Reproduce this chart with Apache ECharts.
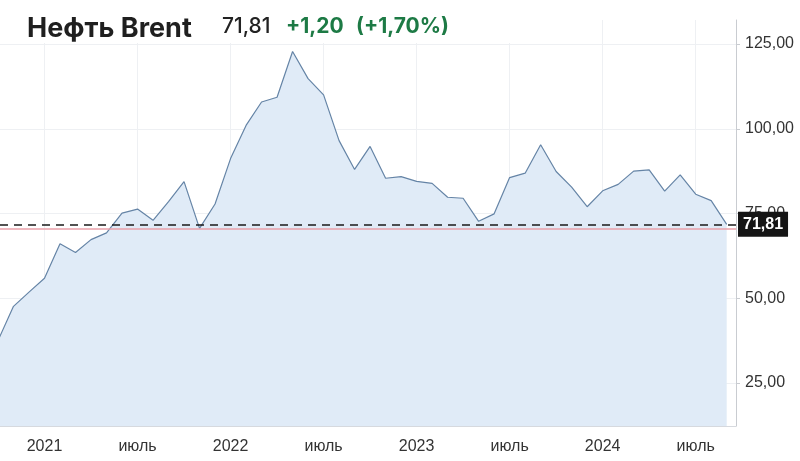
<!DOCTYPE html>
<html><head><meta charset="utf-8">
<script src="https://cdn.jsdelivr.net/npm/echarts@6/dist/echarts.min.js"></script>
<style>html,body{margin:0;padding:0;background:#fff}#c{width:800px;height:461px}</style>
</head><body><div id="c"></div>
<script>
const months = ['2020-10','2020-11','2020-12',
  '2021-01','2021-02','2021-03','2021-04','2021-05','2021-06','2021-07','2021-08','2021-09','2021-10','2021-11','2021-12',
  '2022-01','2022-02','2022-03','2022-04','2022-05','2022-06','2022-07','2022-08','2022-09','2022-10','2022-11','2022-12',
  '2023-01','2023-02','2023-03','2023-04','2023-05','2023-06','2023-07','2023-08','2023-09','2023-10','2023-11','2023-12',
  '2024-01','2024-02','2024-03','2024-04','2024-05','2024-06','2024-07','2024-08','2024-09'];
const prices = [37.5, 47.6, 51.8,
  55.9, 66.1, 63.5, 67.3, 69.3, 75.1, 76.3, 73.0, 78.5, 84.4, 70.6, 77.8,
  91.2, 101.0, 107.9, 109.3, 122.8, 114.8, 110.0, 96.5, 88.0, 94.8, 85.4, 85.9,
  84.5, 83.9, 79.8, 79.5, 72.7, 74.9, 85.6, 86.9, 95.3, 87.4, 82.8, 77.0,
  81.7, 83.6, 87.5, 87.9, 81.6, 86.4, 80.7, 78.8, 71.81];
const xTickMonths = ['2021-01','2021-07','2022-01','2022-07','2023-01','2023-07','2024-01','2024-07'];
const xTickLabels = ['2021','июль','2022','июль','2023','июль','2024','июль'];
const yTicks = [25, 50, 75, 100, 125];
const titleName = 'Нефть Brent';
const lastPrice = 71.81;
const prevClose = 70.61;
const changeText = '+1,20';
const changePctText = '(+1,70%)';

const fmt = v => v.toFixed(2).replace('.', ',');
const seriesData = prices.map((v, i) => [i, v]);
const xTickIdx = xTickMonths.map(m => months.indexOf(m));
const green = '#1d7a45';

const chart = echarts.init(document.getElementById('c'), null, {renderer: 'canvas'});
chart.setOption({
  animation: false,
  backgroundColor: '#ffffff',
  graphic: [
    {type: 'rect', left: 0, top: 0, z: 100, shape: {width: 600, height: 43}, style: {fill: '#ffffff'}},
    {type: 'text', left: 27, top: 15, z: 101, style: {text: titleName, fontFamily: 'Inter', fontSize: 27, fontWeight: 'bold', fill: '#1f1f1f'}},
    {type: 'text', left: 222, top: 16, z: 101, style: {text: fmt(lastPrice), fontFamily: 'Inter', fontSize: 21, fontWeight: 500, fill: '#222'}},
    {type: 'text', left: 286, top: 16, z: 101, style: {text: changeText, fontFamily: 'Inter', fontSize: 21, fontWeight: 'bold', fill: green}},
    {type: 'text', left: 356, top: 16, z: 101, style: {text: changePctText, fontFamily: 'Inter', fontSize: 21, fontWeight: 'bold', fill: green}}
  ],
  grid: {left: 0, right: 64, top: 20, bottom: 35, containLabel: false},
  xAxis: {
    type: 'value', min: 0.13, max: 47.6,
    axisLine: {show: true, lineStyle: {color: '#d6d9de', width: 1}},
    axisTick: {show: false, customValues: xTickIdx},
    axisLabel: {customValues: xTickIdx, margin: 13, fontFamily: 'Liberation Sans', fontSize: 16, color: '#333',
      formatter: v => { const k = xTickIdx.indexOf(Math.round(v)); return k >= 0 ? xTickLabels[k] : ''; }},
    splitLine: {show: true, lineStyle: {color: '#eef0f3', width: 1}}
  },
  yAxis: {
    type: 'value', position: 'right', min: 12.3, max: 132.1,
    axisLine: {show: true, lineStyle: {color: '#c9ccd1', width: 1}},
    axisTick: {show: true, length: 4, inside: false, customValues: yTicks, lineStyle: {color: '#c9ccd1'}},
    axisLabel: {customValues: yTicks, margin: 9, fontFamily: 'Liberation Sans', fontSize: 16, color: '#333', formatter: v => fmt(v)},
    splitLine: {show: true, lineStyle: {color: '#eef0f3', width: 1}}
  },
  series: [{
    type: 'line', data: seriesData, showSymbol: false, symbol: 'none',
    lineStyle: {color: '#6584a6', width: 1.2},
    areaStyle: {color: '#e0ebf7', opacity: 1},
    markLine: {
      silent: true, symbol: ['none', 'none'], animation: false,
      data: [
        {yAxis: prevClose, lineStyle: {color: '#eaa1aa', type: 'solid', width: 1.5}, label: {show: false}},
        {yAxis: lastPrice, lineStyle: {color: '#1a1a1a', type: [8, 6], width: 1.5},
          label: {show: true, position: 'end', distance: 2, formatter: () => fmt(lastPrice),
            backgroundColor: '#151515', color: '#fff', fontFamily: 'Liberation Sans', fontSize: 16, fontWeight: 'bold',
            padding: [5, 5, 4, 5]}}
      ]
    }
  }]
});
</script></body></html>
